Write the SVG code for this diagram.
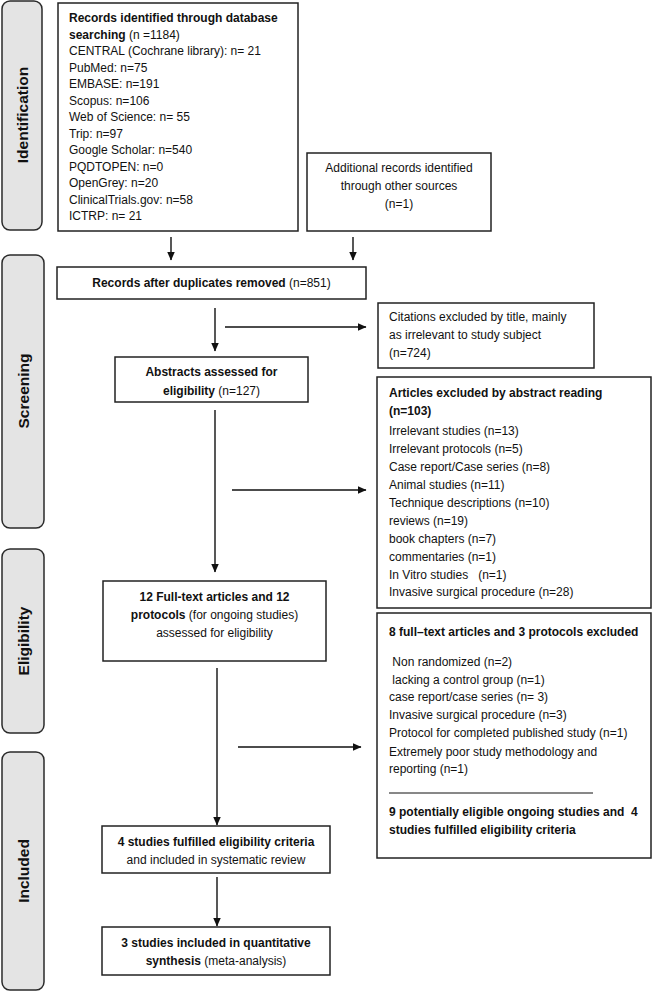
<svg xmlns="http://www.w3.org/2000/svg" width="654" height="992" viewBox="0 0 654 992">
<style>
text{font-family:"Liberation Sans",Arial,sans-serif;font-size:12px;fill:#111}
.b{font-weight:bold}
.c{text-anchor:middle}
.box{fill:#fff;stroke:#222;stroke-width:1.5}
.bar{fill:#e4e4e4;stroke:#2a2a2a;stroke-width:1.5}
.lab{font-size:15.5px;font-weight:bold;text-anchor:middle;dominant-baseline:central}
.con{stroke:#111;stroke-width:1.4;fill:none;marker-end:url(#ah)}
</style>
<defs>
<marker id="ah" markerWidth="9" markerHeight="8" refX="8.5" refY="4" orient="auto" markerUnits="userSpaceOnUse">
<path d="M0,0 L9,4 L0,8 Z" fill="#111"/>
</marker>
</defs>
<g id="stages">
<g id="stage-identification"><rect class="bar" x="2" y="1" width="40" height="229" rx="8"/><text class="lab" transform="translate(22,115) rotate(-90)">Identification</text></g>
<g id="stage-screening"><rect class="bar" x="2" y="255" width="42" height="273" rx="8"/><text class="lab" transform="translate(23,391) rotate(-90)">Screening</text></g>
<g id="stage-eligibility"><rect class="bar" x="2" y="549" width="42" height="184" rx="8"/><text class="lab" transform="translate(23,641) rotate(-90)">Eligibility</text></g>
<g id="stage-included"><rect class="bar" x="2" y="752" width="42" height="238" rx="8"/><text class="lab" transform="translate(23,871) rotate(-90)">Included</text></g>
</g>
<g id="n-records">
<rect class="box" x="58" y="3" width="240" height="228"/>
<text x="69" y="22" class="b">Records identified through database</text>
<text x="69" y="38.5"><tspan class="b">searching</tspan> (n =1184)</text>
<text x="69" y="55">CENTRAL (Cochrane library): n= 21</text>
<text x="69" y="71.5">PubMed: n=75</text>
<text x="69" y="88">EMBASE: n=191</text>
<text x="69" y="104.5">Scopus: n=106</text>
<text x="69" y="121">Web of Science: n= 55</text>
<text x="69" y="137.5">Trip: n=97</text>
<text x="69" y="154">Google Scholar: n=540</text>
<text x="69" y="170.5">PQDTOPEN: n=0</text>
<text x="69" y="187">OpenGrey: n=20</text>
<text x="69" y="203.5">ClinicalTrials.gov: n=58</text>
<text x="69" y="220">ICTRP: n= 21</text>
</g>
<g id="n-additional">
<rect class="box" x="307" y="153" width="184" height="78"/>
<text x="399" y="172" class="c">Additional records identified</text>
<text x="399" y="190" class="c">through other sources</text>
<text x="399" y="208" class="c">(n=1)</text>
</g>
<g id="n-dedup">
<rect class="box" x="57" y="267" width="309" height="32"/>
<text x="211.5" y="287" class="c"><tspan class="b">Records after duplicates removed</tspan> (n=851)</text>
</g>
<g id="n-citations">
<rect class="box" x="378" y="303" width="216" height="65"/>
<text x="389" y="321">Citations excluded by title, mainly</text>
<text x="389" y="339">as irrelevant to study subject</text>
<text x="389" y="357">(n=724)</text>
</g>
<g id="n-abstracts">
<rect class="box" x="115" y="357" width="193" height="45"/>
<text x="211.5" y="376" class="c b">Abstracts assessed for</text>
<text x="211.5" y="395" class="c"><tspan class="b">eligibility</tspan> (n=127)</text>
</g>
<g id="n-abs-excluded">
<rect class="box" x="377" y="377" width="274" height="231"/>
<text x="389" y="397" class="b">Articles excluded by abstract reading</text>
<text x="389" y="415" class="b">(n=103)</text>
<text x="389" y="435">Irrelevant studies (n=13)</text>
<text x="389" y="453">Irrelevant protocols (n=5)</text>
<text x="389" y="471">Case report/Case series (n=8)</text>
<text x="389" y="489">Animal studies (n=11)</text>
<text x="389" y="507">Technique descriptions (n=10)</text>
<text x="389" y="524.5">reviews (n=19)</text>
<text x="389" y="542.5">book chapters (n=7)</text>
<text x="389" y="560.5">commentaries (n=1)</text>
<text x="389" y="578.5" xml:space="preserve">In Vitro studies   (n=1)</text>
<text x="389" y="596">Invasive surgical procedure (n=28)</text>
</g>
<g id="n-fulltext">
<rect class="box" x="103" y="581" width="223" height="80"/>
<text x="214.5" y="601" class="c b">12 Full-text articles and 12</text>
<text x="214.5" y="619" class="c"><tspan class="b">protocols</tspan> (for ongoing studies)</text>
<text x="214.5" y="637" class="c">assessed for eligibility</text>
</g>
<g id="n-ft-excluded">
<rect class="box" x="377" y="613" width="274" height="245"/>
<text x="389" y="636" class="b">8 full–text articles and 3 protocols excluded</text>
<text x="389" y="666" xml:space="preserve"> Non randomized (n=2)</text>
<text x="389" y="684" xml:space="preserve"> lacking a control group (n=1)</text>
<text x="389" y="701">case report/case series (n= 3)</text>
<text x="389" y="719">Invasive surgical procedure (n=3)</text>
<text x="389" y="737">Protocol for completed published study (n=1)</text>
<text x="389" y="756">Extremely poor study methodology and</text>
<text x="389" y="773">reporting (n=1)</text>
<line x1="389" y1="793" x2="593" y2="793" stroke="#111" stroke-width="1"/>
<text x="389" y="816" class="b" xml:space="preserve">9 potentially eligible ongoing studies and  4</text>
<text x="389" y="834" class="b">studies fulfilled eligibility criteria</text>
</g>
<g id="n-included">
<rect class="box" x="102" y="826" width="228" height="47"/>
<text x="216" y="846" class="c b">4 studies fulfilled eligibility criteria</text>
<text x="216" y="864" class="c">and included in systematic review</text>
</g>
<g id="n-meta">
<rect class="box" x="102" y="927" width="228" height="48"/>
<text x="216" y="947" class="c b">3 studies included in quantitative</text>
<text x="216" y="965" class="c"><tspan class="b">synthesis</tspan> (meta-analysis)</text>
</g>
<g id="connectors">
<line class="con" x1="171" y1="237" x2="171" y2="260"/>
<line class="con" x1="353" y1="237" x2="353" y2="260"/>
<line class="con" x1="215" y1="308" x2="215" y2="351"/>
<line class="con" x1="225" y1="327" x2="366" y2="327"/>
<line class="con" x1="215" y1="410" x2="215" y2="572"/>
<line class="con" x1="232" y1="490" x2="366" y2="490"/>
<line class="con" x1="217" y1="668" x2="217" y2="825"/>
<line class="con" x1="238" y1="747" x2="361" y2="747"/>
<line class="con" x1="217" y1="877" x2="217" y2="926"/>
</g>
</svg>
